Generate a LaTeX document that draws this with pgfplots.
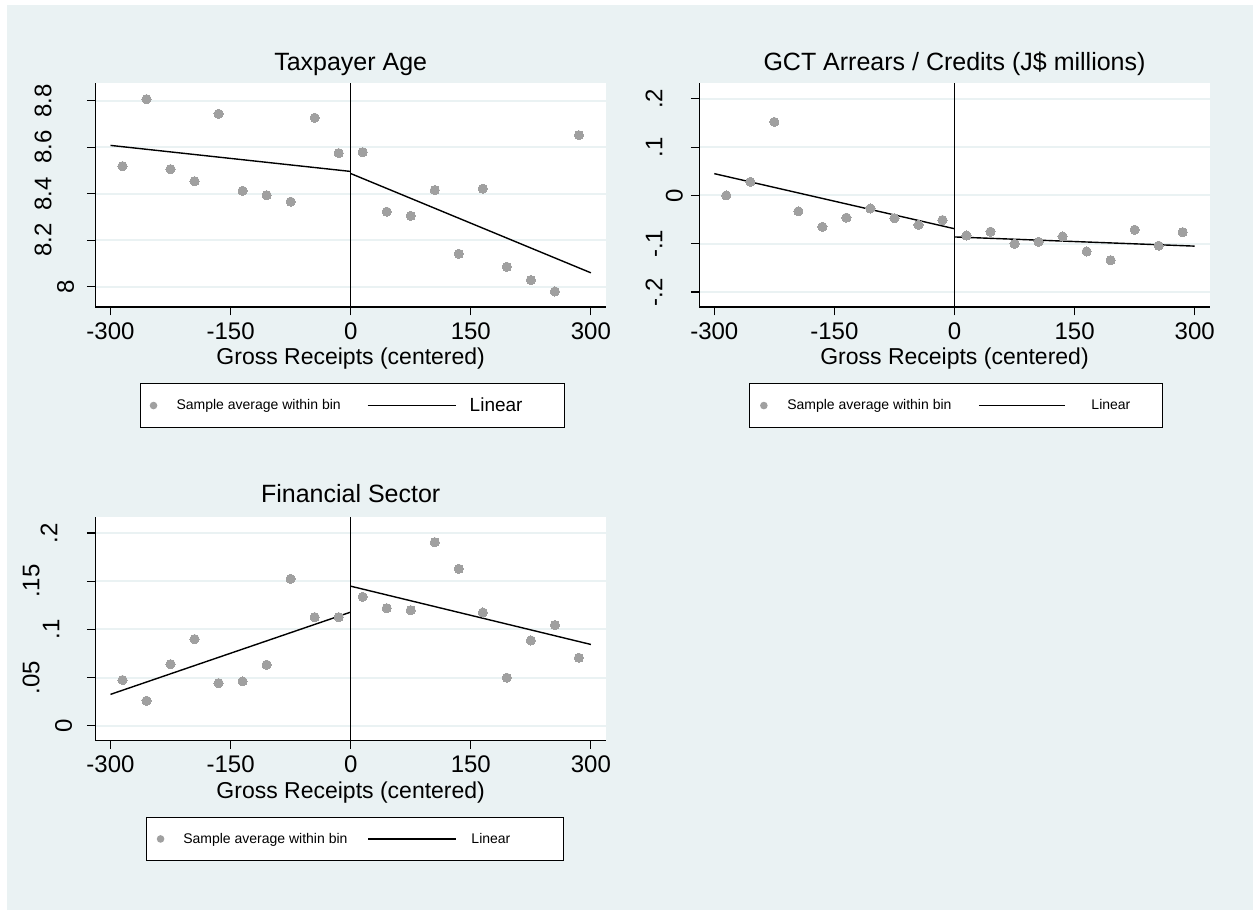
\documentclass[border=0pt]{standalone}
\usepackage{fontspec}
\setmainfont{Liberation Sans}
\usepackage{pgfplots}
\pgfplotsset{compat=1.18}
\definecolor{bgc}{RGB}{234,242,243}
\definecolor{mk}{RGB}{160,160,160}
\pgfplotsset{
 stata/.style={
  scale only axis, width=510.8pt, height=223.7pt,
  anchor=south west,
  xmin=-319, xmax=319,
  axis x line*=bottom, axis y line*=left,
  axis line style={-, line width=1.1pt, black},
  axis background/.style={fill=white},
  tick align=outside, major tick length=8.3pt,
  tick style={black, line width=1.1pt},
  xtick={-300,-150,0,150,300},
  xticklabels={-300,-150,0,150,300},
  ymajorgrids, major grid style={bgc, line width=2pt},
  xticklabel style={font=\fontsize{24}{24}\selectfont, anchor=north, inner sep=0pt, yshift=-7pt},
  yticklabel style={font=\fontsize{24}{24}\selectfont, rotate=90, anchor=base, inner sep=0pt},
  title style={font=\fontsize{25}{25}\selectfont, at={(0.5,1)}, anchor=base, yshift=7.3pt},
  xlabel={Gross Receipts (centered)},
  xlabel style={font=\fontsize{23}{23}\selectfont, at={(0.5,0)}, anchor=base, yshift=-57.6pt},
  legend columns=2,
  legend style={draw=black, line width=1.1pt, fill=white, inner sep=0pt, nodes={inner sep=0pt, draw=none, fill=none}, anchor=north west, cells={anchor=center}},
 },
 dots/.style={only marks, color=mk, mark=*, mark size=4.6pt, mark options={fill=mk, draw=mk, line width=0pt}},
 fit/.style={black, line width=1.4pt, no marks},
 zline/.style={black, line width=1.1pt, no marks, forget plot},
}
\begin{document}
\begin{tikzpicture}
\path[fill=white] (0pt,0pt) rectangle (1253pt,-910pt);
\fill[bgc] (7pt,-5pt) rectangle (1253pt,-910pt);

% Panel 1
\begin{axis}[stata, at={(95.3pt,-307pt)},
  title={Taxpayer Age},
  ymin=7.913, ymax=8.875,
  ytick={8,8.2,8.4,8.6,8.8},
  yticklabels={\raisebox{-22.6pt}{8},8.2,8.4,8.6,8.8},
  yticklabel style={yshift=35.6pt},
  legend style={at={(0.0875,-0.3397)}},
]
\addplot[zline] coordinates {(0,7.913) (0,8.875)};
\addplot[dots, legend image code/.code={\path[draw=none,fill=none] (-13pt,-22pt) rectangle (23pt,22pt); \fill[mk, draw=none] (0pt,0pt) circle (3.8pt);}] coordinates {
(-285,8.519) (-255,8.807) (-225,8.506) (-195,8.454) (-165,8.744) (-135,8.413) (-105,8.394) (-75,8.366) (-45,8.727) (-15,8.575)
(15,8.579) (45,8.323) (75,8.305) (105,8.416) (135,8.142) (165,8.422) (195,8.086) (225,8.029) (255,7.980) (285,8.652)};
\addlegendentry{\fontsize{14}{14}\selectfont Sample average within bin}
\addplot[fit, legend image code/.code={\path[draw=none,fill=none] (-27pt,-22pt) rectangle (102pt,22pt); \draw[black, line width=1.2pt] (0pt,0pt) -- (88pt,0pt);}] coordinates {(-300,8.608) (0,8.496)};
\addlegendentry{\makebox[95pt][l]{\fontsize{19}{19}\selectfont Linear}}
\addplot[fit, forget plot] coordinates {(0,8.487) (300,8.060)};
\end{axis}

% Panel 2
\begin{axis}[stata, at={(699.1pt,-307pt)},
  title={GCT Arrears / Credits (J\$ millions)},
  ymin=-0.231, ymax=0.232,
  ytick={-0.2,-0.1,0,0.1,0.2},
  yticklabels={-.2,-.1,\raisebox{-20.2pt}{0},.1,.2},
  yticklabel style={yshift=28.4pt},
  legend style={at={(0.0977,-0.3397)}},
]
\addplot[zline] coordinates {(0,-0.231) (0,0.232)};
\addplot[dots, legend image code/.code={\path[draw=none,fill=none] (-14.3pt,-22pt) rectangle (23.4pt,22pt); \fill[mk, draw=none] (0pt,0pt) circle (3.8pt);}] coordinates {
(-285,0.000) (-255,0.028) (-225,0.152) (-195,-0.033) (-165,-0.065) (-135,-0.046) (-105,-0.027) (-75,-0.047) (-45,-0.061) (-15,-0.051)
(15,-0.083) (45,-0.075) (75,-0.100) (105,-0.096) (135,-0.085) (165,-0.116) (195,-0.134) (225,-0.071) (255,-0.104) (285,-0.076)};
\addlegendentry{\fontsize{14}{14}\selectfont Sample average within bin}
\addplot[fit, legend image code/.code={\path[draw=none,fill=none] (-27.4pt,-22pt) rectangle (112.6pt,22pt); \draw[black, line width=1.2pt] (0pt,0pt) -- (86.6pt,0pt);}] coordinates {(-300,0.045) (0,-0.069)};
\addlegendentry{\makebox[70.7pt][l]{\fontsize{14}{14}\selectfont Linear}}
\addplot[fit, forget plot] coordinates {(0,-0.086) (300,-0.105)};
\end{axis}

% Panel 3
\begin{axis}[stata, at={(95.3pt,-740.7pt)},
  title={Financial Sector},
  title style={yshift=1.4pt},
  ymin=-0.0156, ymax=0.2166,
  ytick={0,0.05,0.1,0.15,0.2},
  yticklabels={\raisebox{-32.5pt}{0},.05,\raisebox{-19.8pt}{.1},.15,\raisebox{-17.8pt}{.2}},
  yticklabel style={yshift=47.5pt},
  legend style={at={(0.0987,-0.3397)}},
]
\addplot[zline] coordinates {(0,-0.0156) (0,0.2166)};
\addplot[dots, legend image code/.code={\path[draw=none,fill=none] (-14.3pt,-21.7pt) rectangle (22.7pt,21.7pt); \fill[mk, draw=none] (0pt,0pt) circle (3.8pt);}] coordinates {
(-285,0.0474) (-255,0.0259) (-225,0.0639) (-195,0.0899) (-165,0.0442) (-135,0.0460) (-105,0.0633) (-75,0.1524) (-45,0.1127) (-15,0.1127)
(15,0.1338) (45,0.1220) (75,0.1199) (105,0.1905) (135,0.1628) (165,0.1175) (195,0.0498) (225,0.0885) (255,0.1044) (285,0.0705)};
\addlegendentry{\fontsize{14}{14}\selectfont Sample average within bin}
\addplot[fit, legend image code/.code={\path[draw=none,fill=none] (-21pt,-21.7pt) rectangle (103pt,21.7pt); \draw[black, line width=1.2pt] (0pt,0pt) -- (88pt,0pt);}] coordinates {(-300,0.0325) (0,0.1179)};
\addlegendentry{\makebox[91.7pt][l]{\fontsize{14}{14}\selectfont Linear}}
\addplot[fit, forget plot] coordinates {(0,0.1448) (300,0.0843)};
\end{axis}
\end{tikzpicture}
\end{document}
